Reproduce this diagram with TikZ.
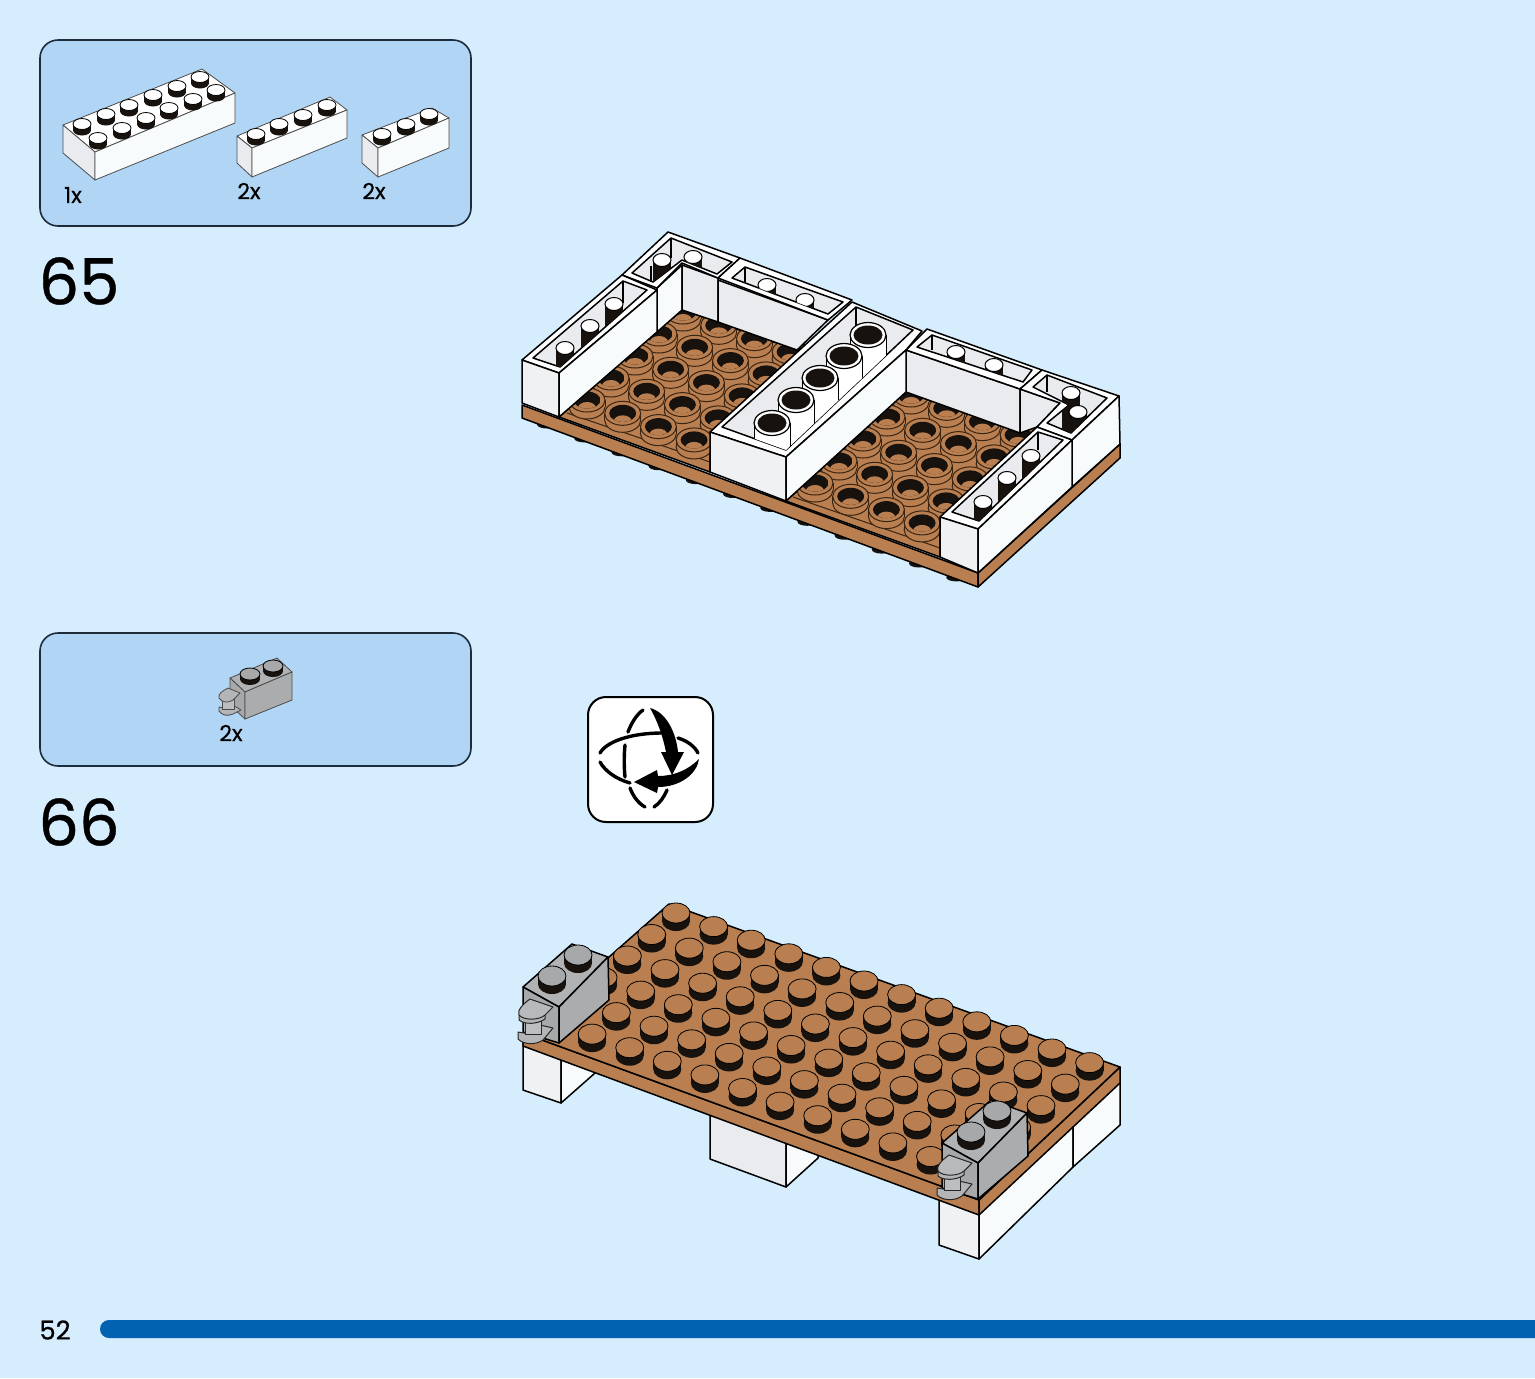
\documentclass[tikz,border=0pt]{standalone}
\usepackage{fontspec}
\setmainfont{Poppins}[FakeBold=0.6]
\definecolor{pagebg}{HTML}{D5EDFD}
\definecolor{panelbg}{HTML}{B1D6F5}
\definecolor{panelline}{HTML}{1C2C3A}
\definecolor{platecol}{HTML}{B97F50}
\definecolor{studdark}{HTML}{17120E}
\definecolor{ringline}{HTML}{3A2412}
\definecolor{facegrey}{HTML}{E9EBEE}
\definecolor{facewhite}{HTML}{F8FBFC}
\definecolor{bargrey}{HTML}{A6A8AA}
\definecolor{barblue}{HTML}{0062B1}
\tikzset{
    panel/.style={fill=panelbg, draw=panelline, line width=0.8pt, rounded corners=9pt},
    edge/.style={draw=black, line width=0.75pt, line join=round},
    thinedge/.style={draw=black!70, line width=0.4pt, line join=round},
    clipedge/.style={draw=black!85, line width=0.5pt, line join=round},
    qty/.style={font=\fontsize{11}{13}\selectfont, inner sep=0pt},
    stepno/.style={font=\fontsize{32}{38}\selectfont, inner sep=0pt},
}
\newcommand{\knob}[6]{
    \begin{scope}[shift={(#1,#2)}]
        \fill[studdark] (-#3,0) rectangle (#3,#5);
        \fill[studdark] (0,#5) ellipse [x radius=#3, y radius=#4];
        \draw[fill=#6, draw=black, line width=0.4pt] (0,0) ellipse [x radius=#3, y radius=#4];
    \end{scope}
}
\newcommand{\ringstud}[2]{
    \begin{scope}[shift={(#1,#2)}]
        \draw[fill=platecol, draw=ringline, line width=0.5pt] (0,7) ellipse [x radius=18, y radius=12];
        \fill[platecol] (-17.7,0) rectangle (17.7,7);
        \draw[ringline, line width=0.5pt] (-18,0) -- (-18,7) (18,0) -- (18,7);
        \draw[fill=platecol, draw=ringline, line width=0.5pt] (0,0) ellipse [x radius=18, y radius=12];
        \begin{scope}
            \clip (0,0) ellipse [x radius=13.5, y radius=8.5];
            \fill[studdark] (-14,-9) rectangle (14,9);
            \fill[platecol] (0,8) ellipse [x radius=9, y radius=6];
        \end{scope}
    \end{scope}
}
\newcommand{\wallstud}[2]{
    \begin{scope}[shift={(#1,#2)}]
        \fill[studdark] (-9,0) rectangle (9,40);
        \draw[fill=white, draw=black, line width=0.5pt] (0,0) ellipse [x radius=9, y radius=6.5];
    \end{scope}
}
\newcommand{\whitetube}[2]{
    \begin{scope}[shift={(#1,#2)}]
        \fill[white] (-18,0) rectangle (18,45);
        \draw[black, line width=0.5pt] (-18,0) -- (-18,45) (18,0) -- (18,45);
        \draw[fill=white, draw=black, line width=0.6pt] (0,0) ellipse [x radius=18, y radius=12.5];
        \fill[studdark] (0,0) ellipse [x radius=14.5, y radius=9.5];
    \end{scope}
}
\newcommand{\greybrick}[2]{
    \begin{scope}[shift={(#1,#2)}]
        \filldraw[edge, fill=bargrey!88] (523,987) -- (572,944) -- (608,957) -- (559,1007) -- cycle;
        \filldraw[edge, fill=bargrey] (523,987) -- (559,1007) -- (559,1043) -- (523,1032) -- cycle;
        \filldraw[edge, fill=bargrey!95] (559,1007) -- (608,957) -- (609,1000) -- (559,1043) -- cycle;
        \knob{552}{976}{14}{10}{8}{bargrey}
        \knob{578}{955}{14}{10}{8}{bargrey}
        \filldraw[clipedge, fill=bargrey!85] (540,1025) -- (553,1028) -- (543,1040) .. controls (536,1045) and (524,1045) .. (518,1039) -- (518,1032) -- (530,1034) -- cycle;
        \filldraw[clipedge, fill=bargrey!75] (525,1016) rectangle (541,1034);
        \filldraw[clipedge, fill=bargrey!85] (519,1015) -- (519,1020) .. controls (525,1025) and (538,1024) .. (545,1019) -- (545,1015) -- cycle;
        \filldraw[clipedge, fill=bargrey!80] (530,999) -- (553,1007) -- (545,1015) .. controls (540,1020) and (524,1021) .. (519,1015) .. controls (517,1010) and (523,1004) .. (530,999) -- cycle;
    \end{scope}
}
\begin{document}
\begin{tikzpicture}[x=0.5pt, y=-0.5pt]
    \fill[pagebg] (0,0) rectangle (1535,1378);
    \useasboundingbox (0,0) rectangle (1535,1378);

    % parts panels
    \draw[panel] (40,40) rectangle (471,226);
    \draw[panel] (40,633) rectangle (471,766);

    \filldraw[thinedge, fill=white] (63,125) -- (202,69) -- (235,93) -- (95,152) -- cycle;
    \filldraw[thinedge, fill=facegrey] (63,125) -- (95,152) -- (95,180) -- (63,153) -- cycle;
    \filldraw[thinedge, fill=facewhite] (95,152) -- (235,93) -- (235,123) -- (95,180) -- cycle;
    \foreach \x/\y in {82/124,106/114,129/105,153/95,177/86,200/77,98/138,122/128,146/118,169/108,193/99,216/90} {
        \knob{\x}{\y}{9}{5.5}{6}{white}
    }

    \filldraw[thinedge, fill=white] (237,136) -- (330,97) -- (347,110) -- (252,148) -- cycle;
    \filldraw[thinedge, fill=facegrey] (237,136) -- (252,148) -- (252,177) -- (237,163) -- cycle;
    \filldraw[thinedge, fill=facewhite] (252,148) -- (347,110) -- (347,138) -- (252,177) -- cycle;
    \foreach \x/\y in {256/134,279/124,303/115,327/105} {
        \knob{\x}{\y}{9}{5.5}{6}{white}
    }

    \filldraw[thinedge, fill=white] (362,135) -- (432,108) -- (449,118) -- (378,148) -- cycle;
    \filldraw[thinedge, fill=facegrey] (362,135) -- (378,148) -- (378,177) -- (362,163) -- cycle;
    \filldraw[thinedge, fill=facewhite] (378,148) -- (449,118) -- (449,148) -- (378,177) -- cycle;
    \foreach \x/\y in {382/134,406/124,429/114} {
        \knob{\x}{\y}{9}{5.5}{6}{white}
    }

    \filldraw[thinedge, fill=bargrey!88] (230,678) -- (277,658) -- (292,672) -- (245,692) -- cycle;
    \filldraw[thinedge, fill=bargrey] (230,678) -- (245,692) -- (245,719) -- (230,705) -- cycle;
    \filldraw[thinedge, fill=bargrey!95] (245,692) -- (292,672) -- (292,700) -- (245,719) -- cycle;
    \knob{250}{674}{10}{6}{5}{bargrey}
    \knob{273}{666}{10}{6}{5}{bargrey}
    \filldraw[thinedge, fill=bargrey!85] (233,705) -- (241,710) -- (233,714) .. controls (229,716) and (222,716) .. (219,711) -- (219,707) -- (224,708) -- cycle;
    \filldraw[thinedge, fill=bargrey!75] (222,699) rectangle (234,709);
    \filldraw[thinedge, fill=bargrey!85] (228,688) -- (240,693) -- (233,700) .. controls (229,703) and (222,703) .. (219,698) .. controls (218,694) and (222,691) .. (228,688) -- cycle;

    \node(qty_big)    at(73, 195)  [qty] {1x};
    \node(qty_long)   at(249, 191) [qty] {2x};
    \node(qty_short)  at(374, 191) [qty] {2x};
    \node(qty_grey)   at(231, 733) [qty] {2x};
    \node(step_first) at(79, 281)  [stepno] {65};
    \node(step_next)  at(79, 822)  [stepno] {66};
    \node(page_no)    at(55, 1330) [font=\fontsize{13}{15}\selectfont, inner sep=0pt] {52};

    % turn over icon
    \draw[fill=white, draw=black, line width=1pt, rounded corners=9pt] (588,697) rectangle (713,822);
    \begin{scope}[line width=1.7pt, line cap=round]
        \draw (643,710) .. controls (636,715) and (631,724) .. (628,732);
        \draw (625,745) .. controls (624,755) and (624,767) .. (625,777);
        \draw (630,788) .. controls (633,796) and (638,803) .. (645,807);
        \draw (667,790) .. controls (664,797) and (660,803) .. (654,807);
        \draw (600,753) .. controls (606,742) and (630,733) .. (662,733);
        \draw (678,738) .. controls (688,741) and (695,747) .. (698,753);
        \draw (600,762) .. controls (605,771) and (616,779) .. (630,783);
    \end{scope}
    \fill[black] (650,708) .. controls (666,712) and (676,732) .. (678,752) -- (684,752) -- (672,775) -- (661,752) -- (666,752) .. controls (663,737) and (658,722) .. (650,708) -- cycle;
    \fill[black] (699,759) .. controls (697,774) and (680,787) .. (658,787) -- (657,793) -- (634,782) -- (657,770) -- (658,776) .. controls (674,776) and (688,770) .. (699,759) -- cycle;

    % model of step 65
    \foreach \i in {0,...,11}
        \fill[studdark] ({547+37.2*\i},{424.5+13.9*\i}) ellipse [x radius=10, y radius=4];
    \filldraw[edge, fill=platecol] (522,405) -- (978,573) -- (978,587) -- (522,418) -- cycle;
    \filldraw[edge, fill=platecol] (978,573) -- (1120,444) -- (1120,458) -- (978,587) -- cycle;

    \filldraw[edge, fill=platecol] (559,417) -- (657,332) -- (682,310) -- (797,350) -- (710,432) -- (710,472) -- cycle;
    \draw[ringline, line width=0.5pt] (567,413) -- (710,462);
    \foreach \j in {0,...,4} {
        \foreach \i in {0,...,3} {
            \ringstud{683+35.7*\i-24*\j}{312+13.3*\i+22*\j}
        }
    }

    \filldraw[edge, fill=platecol] (786,501) -- (906,392) -- (1020,433) -- (940,517) -- (940,557) -- cycle;
    \draw[ringline, line width=0.5pt] (793,497) -- (940,548);
    \foreach \j in {0,...,4} {
        \foreach \i in {0,...,3} {
            \ringstud{911+35.7*\i-24*\j}{395+13.3*\i+22*\j}
        }
    }

    % back walls
    \filldraw[edge, fill=facewhite] (657,288) -- (682,265) -- (682,310) -- (657,332) -- cycle;
    \filldraw[edge, fill=facegrey] (682,265) -- (718,278) -- (718,322) -- (682,310) -- cycle;
    \filldraw[edge, fill=facegrey] (718,280) -- (828,320) -- (797,350) -- (718,322) -- cycle;
    \filldraw[edge, fill=facegrey] (906,350) -- (1020,389) -- (1020,433) -- (906,392) -- cycle;
    \filldraw[edge, fill=facegrey] (1020,389) -- (1060,403) -- (1037,427) -- (1020,433) -- cycle;

    % corner at the back left
    \filldraw[edge, fill=white] (622,275) -- (668,232) -- (740,258) -- (718,278) -- (682,263) -- (657,288) -- cycle;
    \filldraw[edge, fill=facegrey] (632,273) -- (671,238) -- (732,262) -- (717,274) -- (682,260) -- (653,282) -- cycle;
    \begin{scope}
        \clip (632,273) -- (671,238) -- (732,262) -- (717,274) -- (682,260) -- (653,282) -- cycle;
        \draw[edge] (671,238) -- (671,258);
        \draw[edge] (651,266) -- (651,282);
        \wallstud{693}{257}
        \wallstud{662}{260}
    \end{scope}

    % block on the back, left half
    \filldraw[edge, fill=white] (718,278) -- (740,258) -- (852,300) -- (828,320) -- cycle;
    \filldraw[edge, fill=facegrey] (732,278) -- (745,267) -- (843,302) -- (828,314) -- cycle;
    \begin{scope}
        \clip (732,278) -- (745,267) -- (843,302) -- (828,314) -- cycle;
        \draw[edge] (745,267) -- (745,282);
        \wallstud{767}{285}
        \wallstud{805}{300}
    \end{scope}

    % block on the back, right half
    \filldraw[edge, fill=white] (906,350) -- (927,329) -- (1042,370) -- (1020,389) -- cycle;
    \filldraw[edge, fill=facegrey] (917,347) -- (932,335) -- (1032,370) -- (1023,382) -- cycle;
    \begin{scope}
        \clip (917,347) -- (932,335) -- (1032,370) -- (1023,382) -- cycle;
        \draw[edge] (932,335) -- (932,350);
        \wallstud{956}{352}
        \wallstud{994}{365}
    \end{scope}

    % corner at the right
    \filldraw[edge, fill=white] (1020,389) -- (1042,370) -- (1119,396) -- (1072,440) -- (1037,427) -- (1060,403) -- cycle;
    \filldraw[edge, fill=facegrey] (1033,387) -- (1047,375) -- (1107,398) -- (1071,433) -- (1047,423) -- (1069,405) -- cycle;
    \begin{scope}
        \clip (1033,387) -- (1047,375) -- (1107,398) -- (1071,433) -- (1047,423) -- (1069,405) -- cycle;
        \draw[edge] (1047,375) -- (1047,392);
        \draw[edge] (1065,416) -- (1065,432);
        \wallstud{1071}{393}
        \wallstud{1078}{412}
    \end{scope}
    \filldraw[edge, fill=facewhite] (1072,440) -- (1119,396) -- (1120,444) -- (1072,487) -- cycle;

    % block with the tubes
    \filldraw[edge, fill=white] (710,432) -- (786,457) -- (906,350) -- (922,331) -- (852,302) -- cycle;
    \filldraw[edge, fill=facegrey] (722,427) -- (786,450) -- (913,330) -- (856,307) -- cycle;
    \begin{scope}
        \clip (722,427) -- (786,450) -- (913,330) -- (856,307) -- cycle;
        \draw[edge] (856,307) -- (856,332);
        \foreach \x/\y in {868/335,844/356,820/378,796/400,772/423} {
            \whitetube{\x}{\y}
        }
    \end{scope}
    \filldraw[edge, fill=facegrey!70!white] (710,432) -- (786,457) -- (786,501) -- (710,472) -- cycle;
    \filldraw[edge, fill=facewhite] (786,457) -- (906,350) -- (906,392) -- (786,501) -- cycle;

    % block at the front left
    \filldraw[edge, fill=white] (522,360) -- (559,373) -- (657,290) -- (622,275) -- cycle;
    \filldraw[edge, fill=facegrey] (533,358) -- (560,367) -- (647,290) -- (623,281) -- cycle;
    \begin{scope}
        \clip (533,358) -- (560,367) -- (647,290) -- (623,281) -- cycle;
        \draw[edge] (623,281) -- (623,303);
        \wallstud{614}{304}
        \wallstud{590}{326}
        \wallstud{565}{348}
    \end{scope}
    \filldraw[edge, fill=facegrey!70!white] (522,360) -- (559,373) -- (559,417) -- (522,403) -- cycle;
    \filldraw[edge, fill=facewhite] (559,373) -- (657,290) -- (657,332) -- (559,417) -- cycle;

    % block at the front right
    \filldraw[edge, fill=white] (940,517) -- (978,529) -- (1072,440) -- (1037,427) -- cycle;
    \filldraw[edge, fill=facegrey] (952,512) -- (979,521) -- (1063,440) -- (1038,432) -- cycle;
    \begin{scope}
        \clip (952,512) -- (979,521) -- (1063,440) -- (1038,432) -- cycle;
        \draw[edge] (1038,432) -- (1038,450);
        \wallstud{1031}{456}
        \wallstud{1007}{478}
        \wallstud{983}{502}
    \end{scope}
    \filldraw[edge, fill=facegrey!70!white] (940,517) -- (978,529) -- (978,573) -- (940,557) -- cycle;
    \filldraw[edge, fill=facewhite] (978,529) -- (1072,440) -- (1072,487) -- (978,573) -- cycle;

    % model of step 66
    \filldraw[edge, fill=facegrey!70!white] (523,1040) -- (523,1090) -- (561,1103) -- (561,1055) -- cycle;
    \filldraw[edge, fill=facewhite] (561,1055) -- (561,1103) -- (595,1073) -- (595,1060) -- cycle;
    \filldraw[edge, fill=facegrey] (710,1110) -- (710,1159) -- (786,1187) -- (786,1140) -- cycle;
    \filldraw[edge, fill=facewhite] (786,1140) -- (786,1187) -- (818,1158) -- (818,1150) -- cycle;
    \filldraw[edge, fill=facegrey!70!white] (939,1198) -- (939,1245) -- (979,1259) -- (979,1210) -- cycle;
    \filldraw[edge, fill=facewhite] (979,1210) -- (979,1259) -- (1073,1167) -- (1073,1123) -- cycle;
    \filldraw[edge, fill=facewhite] (1073,1123) -- (1073,1167) -- (1120,1125) -- (1120,1078) -- cycle;

    \filldraw[edge, fill=platecol] (523,1033) -- (979,1200) -- (979,1215) -- (523,1046) -- cycle;
    \filldraw[edge, fill=platecol] (979,1200) -- (1120,1067) -- (1120,1083) -- (979,1215) -- cycle;
    \filldraw[edge, fill=platecol] (669,904) -- (1120,1067) -- (979,1200) -- (523,1033) -- cycle;
    \foreach \j in {0,...,5} {
        \foreach \i in {0,...,11} {
            \knob{676+37.6*\i-24.3*\j}{913+13.6*\i+21.5*\j}{14}{10}{8}{platecol}
        }
    }

    \greybrick{0}{0}
    \greybrick{419}{156}

    % progress bar
    \fill[barblue] (1535,1320) [rounded corners=4.5pt] -- (100,1320) -- (100,1338) [sharp corners] -- (1535,1338) -- cycle;
\end{tikzpicture}
\end{document}
